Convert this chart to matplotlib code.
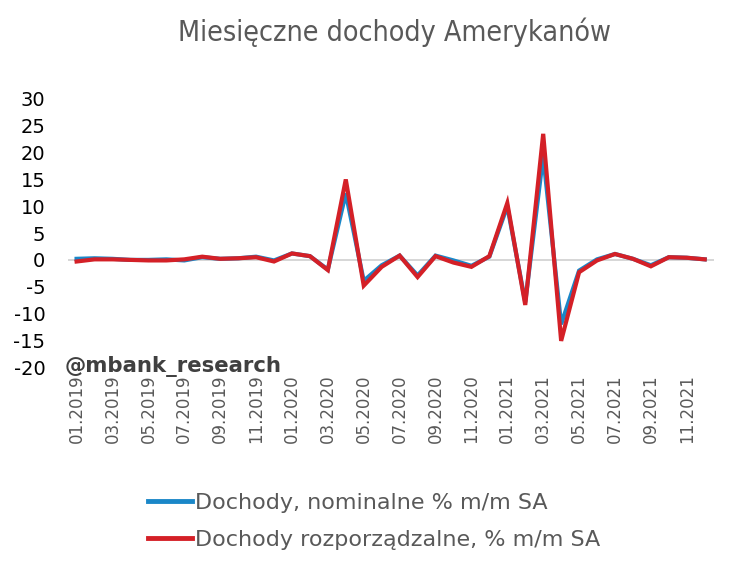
import matplotlib
matplotlib.use("Agg")
import matplotlib.pyplot as plt
from matplotlib.lines import Line2D

plt.rcParams['font.family'] = ['DejaVu Sans']
plt.rcParams['axes.unicode_minus'] = False

# miesiace 01.2019 - 12.2021
months = [f"{m:02d}.{y}" for y in (2019, 2020, 2021) for m in range(1, 13)]

nominal = [0.2, 0.3, 0.2, 0.0, 0.0, 0.1, -0.1, 0.5, 0.2, 0.3, 0.6, -0.1,
           1.2, 0.7, -1.8, 12.4, -3.9, -1.0, 0.8, -2.9, 0.8, -0.1, -1.1, 0.6,
           10.0, -7.9, 19.4, -12.0, -2.0, 0.1, 1.1, 0.2, -1.0, 0.5, 0.4, 0.1]
disposable = [-0.3, 0.1, 0.1, 0.0, -0.1, -0.1, 0.1, 0.6, 0.2, 0.3, 0.5, -0.3,
              1.2, 0.7, -1.9, 15.0, -4.8, -1.3, 0.8, -3.2, 0.7, -0.5, -1.3, 0.7,
              10.6, -8.4, 23.5, -15.1, -2.3, -0.1, 1.1, 0.2, -1.2, 0.5, 0.4, 0.1]

labels = ["Dochody, nominalne % m/m SA", "Dochody rozporządzalne, % m/m SA"]
colors = ["#1a87c8", "#d42027"]
gray = "#595959"

fig = plt.figure(figsize=(7.35, 5.64), dpi=100, facecolor='white')
ax = fig.add_axes([0.092, 0.349, 0.879, 0.4755])

x = list(range(len(months)))
ax.axhline(0, color="#d0d0d0", lw=1.2, zorder=1)
ax.plot(x, nominal, color=colors[0], lw=3, zorder=2, solid_joinstyle='miter')
ax.plot(x, disposable, color=colors[1], lw=3, zorder=3, solid_joinstyle='miter')

ax.set_xlim(-0.5, len(months) - 0.5)
ax.set_ylim(-20, 30)
ax.set_yticks(range(-20, 31, 5))
ax.set_xticks(x[::2])
ax.set_xticklabels(months[::2], rotation=90, fontsize=12, color=gray)
ax.tick_params(axis='y', length=0, pad=16, labelsize=14, labelcolor='black')
ax.tick_params(axis='x', length=0, pad=5)
for s in ax.spines.values():
    s.set_visible(False)

fig.text(0.537, 0.943, "Miesięczne dochody Amerykanów", ha='center', va='center',
         fontsize=20.5, color=gray, fontstretch='condensed')
fig.text(0.088, 0.351, "@mbank_research", ha='left', va='center',
         fontsize=15.3, fontweight='bold', color="#404040")

handles = [Line2D([], [], color=c, lw=3.5) for c in colors]
leg = fig.legend(handles, labels, loc='center left', bbox_to_anchor=(0.2014, 0.0754),
                 frameon=False, fontsize=16, handlelength=1.98, handletextpad=0.14,
                 labelspacing=0.78, labelcolor=gray, borderaxespad=0, borderpad=0)

plt.savefig("out.png", dpi=100, facecolor='white')
